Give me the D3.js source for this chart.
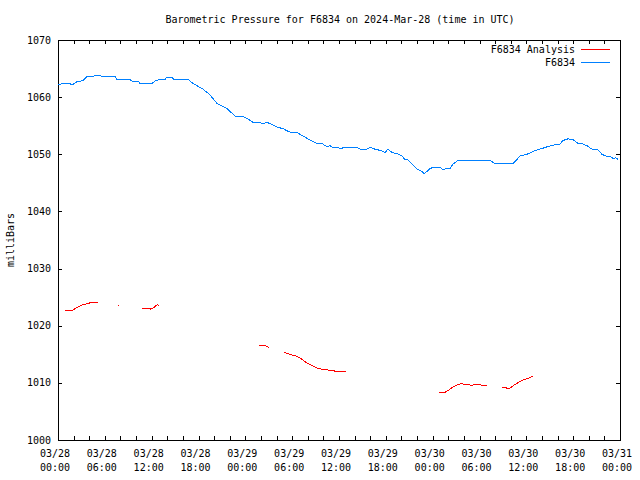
<!DOCTYPE html>
<html>
<head>
<meta charset="utf-8">
<script src="https://cdn.jsdelivr.net/npm/d3@7/dist/d3.min.js"></script>
<style>
body { margin: 0; background: #fff; }
svg { display: block; }
text { font-family: "DejaVu Sans Mono", "Liberation Mono", monospace; font-size: 10px; fill: #000; }
</style>
</head>
<body>
<svg id="chart" width="640" height="480"></svg>
<script>
const titleText = "Barometric Pressure for F6834 on 2024-Mar-28 (time in UTC)";
const yLabel = "milliBars";
const seriesNames = ["F6834 Analysis", "F6834"];
const startTime = Date.UTC(2024, 2, 28, 0, 0);
const endTime = Date.UTC(2024, 2, 31, 0, 0);
const yTicks = [1000, 1010, 1020, 1030, 1040, 1050, 1060, 1070];

// Observed station pressure (hours since 2024-03-28 00:00 UTC)
const blueHours = [0,0.64,1.54,1.79,2.43,3.2,3.72,4.48,4.74,5.38,5.64,7.3,7.56,9.22,9.48,10.25,10.5,12.04,12.43,13.07,13.7,13.96,14.6,14.86,16.65,17.3,18.58,19.47,20.37,21.65,22.68,23.57,24.21,24.98,25.88,26.26,26.77,27.41,28.18,28.82,29.34,29.98,30.62,31.0,31.9,32.67,33.18,33.82,34.46,34.85,35.23,35.87,36.38,36.51,38.3,38.69,39.58,39.97,40.61,41.51,41.89,42.28,42.79,43.56,44.07,44.45,44.84,45.35,45.73,46.12,46.63,46.89,47.27,47.66,48.04,48.94,49.32,49.83,50.22,50.6,51.24,51.5,55.34,55.98,58.29,58.8,59.19,60.08,60.85,61.75,62.64,63.41,64.31,64.69,65.33,65.97,66.62,67.26,67.77,68.41,69.18,69.69,70.33,70.97,71.1,71.48,71.74];
const bluePressure = [1062.1,1062.4,1062.4,1062.1,1062.7,1062.9,1063.6,1063.6,1063.8,1063.8,1063.6,1063.6,1063.1,1063.1,1062.8,1062.8,1062.4,1062.4,1062.8,1063.1,1063.1,1063.5,1063.5,1063.1,1063.1,1062.4,1061.4,1060.4,1058.9,1058.0,1056.7,1056.7,1056.3,1055.6,1055.6,1055.3,1055.6,1055.2,1054.7,1054.5,1054.1,1053.8,1053.8,1053.5,1052.8,1052.2,1051.9,1051.9,1051.3,1051.5,1051.2,1051.2,1050.9,1051.2,1051.2,1050.9,1050.9,1051.2,1050.9,1050.6,1050.3,1050.9,1050.3,1050.05,1049.7,1049.1,1049.0,1048.3,1047.8,1047.3,1047.0,1046.6,1047.0,1047.5,1047.7,1047.7,1047.3,1047.5,1047.5,1048.3,1048.9,1048.9,1048.9,1048.4,1048.4,1049.1,1049.7,1050.0,1050.5,1050.9,1051.3,1051.6,1051.8,1052.4,1052.7,1052.6,1051.9,1051.8,1051.5,1050.9,1050.75,1050.0,1049.6,1049.5,1049.2,1049.4,1049.1];

// Analysis pressure (null = gap)
const redHours = [0.9,1.88,2.4,2.82,3.24,3.88,4.32,5.09,null,7.75,7.85,null,10.8,11.7,11.91,12.3,12.72,12.98,null,25.75,26.17,26.65,27.03,null,28.95,29.72,30.58,31.0,31.42,31.86,32.28,32.71,33.22,33.78,34.42,34.63,35.27,35.49,36.89,null,48.81,49.16,49.58,49.8,50.22,50.64,51.08,51.5,51.79,52.14,52.56,53.0,53.42,53.84,54.28,54.92,null,56.92,57.35,57.48,57.9,58.33,58.76,59.18,59.61,60.04,60.47,60.89];
const redPressure = [1022.7,1022.7,1023.2,1023.45,1023.7,1023.9,1024.1,1024.1,null,1023.6,1023.6,null,1023.0,1023.0,1022.9,1023.2,1023.7,1023.45,null,1016.6,1016.6,1016.45,1016.2,null,1015.35,1015.0,1014.65,1014.35,1013.95,1013.5,1013.2,1012.9,1012.6,1012.4,1012.4,1012.2,1012.2,1012.0,1012.0,null,1008.2,1008.35,1008.35,1008.5,1008.9,1009.3,1009.6,1009.8,1009.9,1009.6,1009.8,1009.5,1009.75,1009.8,1009.6,1009.6,null,1009.2,1009.2,1009.05,1009.05,1009.5,1009.9,1010.2,1010.5,1010.7,1010.95,1011.25];

const colors = ["#ff0000", "#0080ff"];

const svg = d3.select("#chart");
const L = 58, R = 620, T = 40, B = 440;
const HOUR = 3600 * 1000;

const x = d3.scaleUtc().domain([new Date(startTime), new Date(endTime)]).range([L, R]);
const y = d3.scaleLinear().domain([1000, 1070]).range([B, T]);

const blue = blueHours.map((h, i) => ({ t: new Date(startTime + h * HOUR), v: bluePressure[i] }));
const red = redHours.map((h, i) => ({ t: h == null ? null : new Date(startTime + h * HOUR), v: redPressure[i] }));

// Title
svg.append("text").attr("x", 340).attr("y", 23).attr("text-anchor", "middle").text(titleText);

// Y label
svg.append("text").attr("transform", "translate(14,240) rotate(-90)").attr("text-anchor", "middle").text(yLabel);

const g = svg.append("g");

// Axes
const xTickVals = d3.utcHour.every(2).range(new Date(startTime), new Date(endTime + 1));
const fmtD = d3.utcFormat("%m/%d"), fmtH = d3.utcFormat("%H:%M");

const xAxisB = d3.axisBottom(x).tickValues(xTickVals).tickSize(-4).tickFormat("");
const xAxisT = d3.axisTop(x).tickValues(xTickVals).tickSize(-4).tickFormat("");
const yAxisL = d3.axisLeft(y).tickValues(yTicks).tickSize(-4).tickFormat("");
const yAxisR = d3.axisRight(y).tickValues(yTicks).tickSize(-4).tickFormat("");

function styleAxis(sel) {
  sel.select(".domain").remove();
  sel.selectAll(".tick line").attr("stroke", "#000").attr("shape-rendering", "crispEdges");
}
g.append("g").attr("transform", `translate(0,${B})`).call(xAxisB).call(styleAxis);
g.append("g").attr("transform", `translate(0,${T})`).call(xAxisT).call(styleAxis);
g.append("g").attr("transform", `translate(${L},0)`).call(yAxisL).call(styleAxis);
g.append("g").attr("transform", `translate(${R},0)`).call(yAxisR).call(styleAxis);

// Tick labels
const labelTicks = xTickVals.filter(d => d.getUTCHours() % 6 === 0);
const xl = svg.append("g");
labelTicks.forEach(d => {
  const t = xl.append("text").attr("text-anchor", "middle");
  t.append("tspan").attr("x", x(d) - 3).attr("y", 457).text(fmtD(d));
  t.append("tspan").attr("x", x(d) - 3).attr("y", 471).text(fmtH(d));
});
svg.append("g").selectAll("text").data(yTicks).join("text")
  .attr("x", 51).attr("y", d => y(d) + 3.5).attr("text-anchor", "end").text(d => d);

// Border
svg.append("rect").attr("x", L + 0.5).attr("y", T + 0.5).attr("width", R - L).attr("height", B - T)
  .attr("fill", "none").attr("stroke", "#000").attr("shape-rendering", "crispEdges");

// Lines
const line = d3.line().defined(d => d.t != null && d.v != null).x(d => x(d.t)).y(d => y(d.v));
svg.append("path").datum(red).attr("fill", "none").attr("stroke", colors[0]).attr("stroke-width", 1)
  .attr("shape-rendering", "crispEdges").attr("d", line);
svg.append("path").datum(blue).attr("fill", "none").attr("stroke", colors[1]).attr("stroke-width", 1)
  .attr("shape-rendering", "crispEdges").attr("d", line);

// Legend
seriesNames.forEach((name, i) => {
  const ly = 49.5 + i * 13;
  svg.append("text").attr("x", 575).attr("y", ly + 3.5).attr("text-anchor", "end").text(name);
  svg.append("line").attr("x1", 581).attr("x2", 610).attr("y1", ly).attr("y2", ly)
    .attr("stroke", colors[i]).attr("stroke-width", 1).attr("shape-rendering", "crispEdges");
});
</script>
</body>
</html>
